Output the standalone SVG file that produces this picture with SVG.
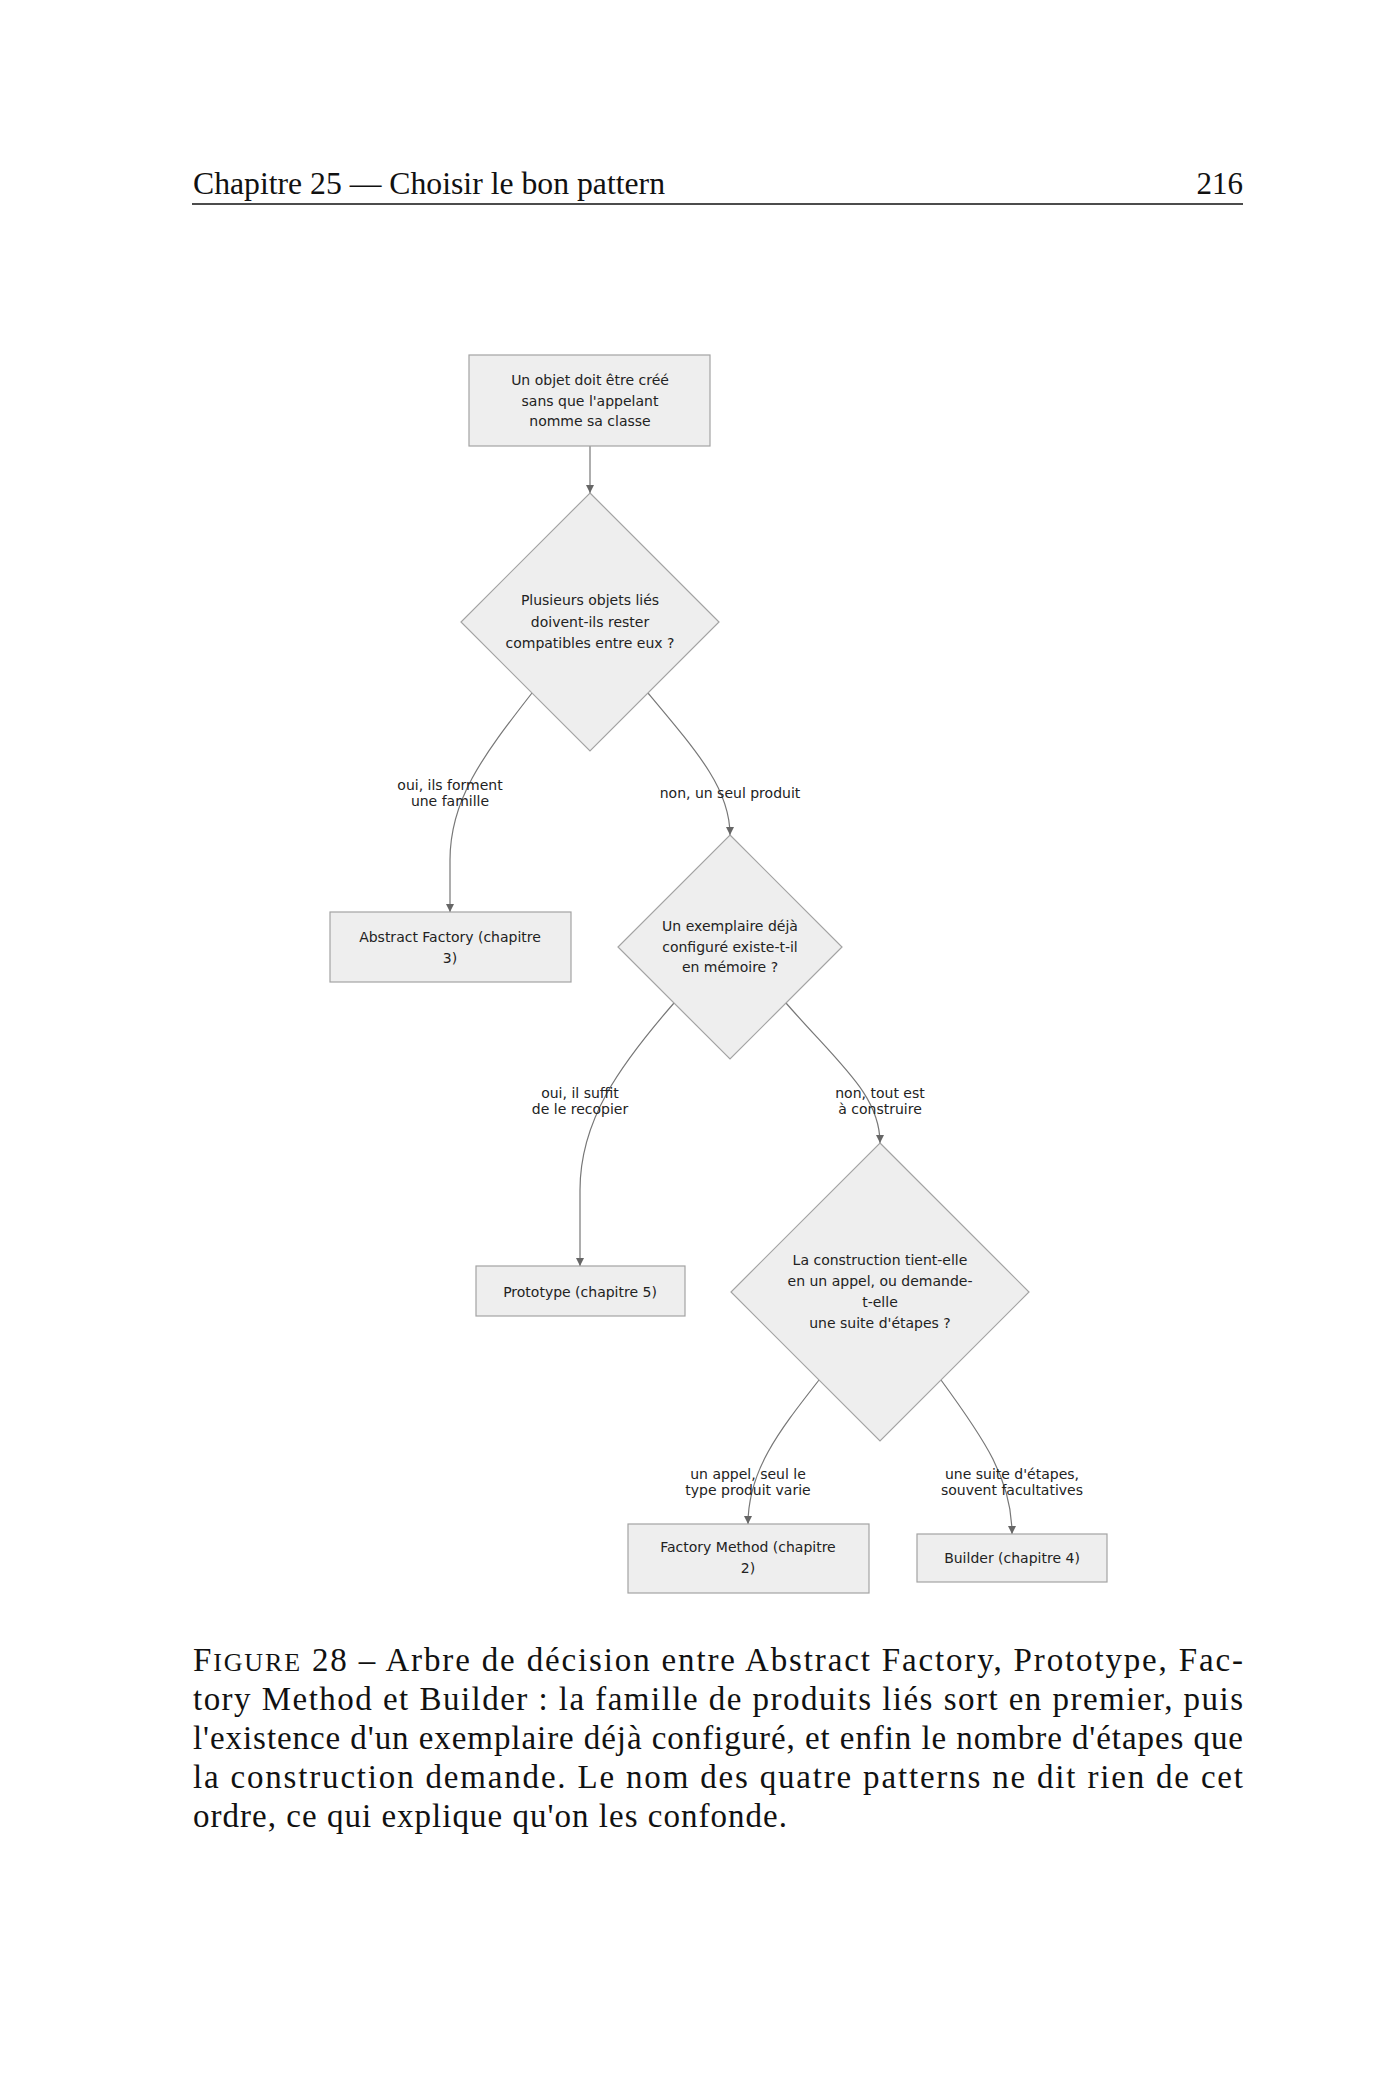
<svg xmlns="http://www.w3.org/2000/svg" width="1400" height="2100" viewBox="0 0 1400 2100">
<defs>
<style>
.page{font-family:"Liberation Serif","DejaVu Serif",serif;fill:#111}
.node rect,.node polygon{fill:#eeeeee;stroke:#a3a3a3;stroke-width:1.2}
.nt{font-family:"DejaVu Sans","Noto Sans",sans-serif;font-size:14px;fill:#222;text-anchor:middle}
.el{font-family:"DejaVu Sans","Noto Sans",sans-serif;font-size:14px;fill:#222;text-anchor:middle}
.edge{fill:none;stroke:#777;stroke-width:1.2}
</style>
<marker id="arr" viewBox="0 0 10 10" refX="10" refY="5" markerWidth="8" markerHeight="8" markerUnits="userSpaceOnUse" orient="auto">
<path d="M0,0 L10,5 L0,10 z" fill="#666"/>
</marker>
</defs>
<rect width="1400" height="2100" fill="#ffffff"/>

<g id="header">
<text class="page" x="193" y="194" font-size="31" textLength="472" lengthAdjust="spacingAndGlyphs">Chapitre 25 — Choisir le bon pattern</text>
<text class="page" x="1243" y="194" font-size="31" text-anchor="end">216</text>
<line x1="192" y1="204" x2="1243" y2="204" stroke="#111" stroke-width="1.4"/>
</g>

<g id="connectors">
<path class="edge" d="M590,446 L590,493" marker-end="url(#arr)"/>
<path class="edge" d="M532,693 C482,757 450,800 450,860 L450,912" marker-end="url(#arr)"/>
<path class="edge" d="M648,693 C700,755 730,790 730,835" marker-end="url(#arr)"/>
<path class="edge" d="M674,1003 C620,1065 580,1120 580,1190 L580,1266" marker-end="url(#arr)"/>
<path class="edge" d="M786,1003 C840,1065 880,1095 880,1143" marker-end="url(#arr)"/>
<path class="edge" d="M819,1380 C780,1430 748,1470 748,1524" marker-end="url(#arr)"/>
<path class="edge" d="M941,1380 C985,1440 1012,1480 1012,1534" marker-end="url(#arr)"/>
</g>

<g id="edge-labels">
<text class="el" x="450" y="790">oui, ils forment</text>
<text class="el" x="450" y="806">une famille</text>
<text class="el" x="730" y="798">non, un seul produit</text>
<text class="el" x="580" y="1098">oui, il suffit</text>
<text class="el" x="580" y="1114">de le recopier</text>
<text class="el" x="880" y="1098">non, tout est</text>
<text class="el" x="880" y="1114">à construire</text>
<text class="el" x="748" y="1479">un appel, seul le</text>
<text class="el" x="748" y="1495">type produit varie</text>
<text class="el" x="1012" y="1479">une suite d'étapes,</text>
<text class="el" x="1012" y="1495">souvent facultatives</text>
</g>

<g id="start" class="node">
<rect x="469" y="355" width="241" height="91"/>
<text class="nt" x="590" y="385">Un objet doit être créé</text>
<text class="nt" x="590" y="406">sans que l'appelant</text>
<text class="nt" x="590" y="426">nomme sa classe</text>
</g>

<g id="q1" class="node">
<polygon points="590,493 719,622 590,751 461,622"/>
<text class="nt" x="590" y="605">Plusieurs objets liés</text>
<text class="nt" x="590" y="627">doivent-ils rester</text>
<text class="nt" x="590" y="648">compatibles entre eux ?</text>
</g>

<g id="abstract-factory" class="node">
<rect x="330" y="912" width="241" height="70"/>
<text class="nt" x="450" y="942">Abstract Factory (chapitre</text>
<text class="nt" x="450" y="963">3)</text>
</g>

<g id="q2" class="node">
<polygon points="730,835 842,947 730,1059 618,947"/>
<text class="nt" x="730" y="931">Un exemplaire déjà</text>
<text class="nt" x="730" y="952">configuré existe-t-il</text>
<text class="nt" x="730" y="972">en mémoire ?</text>
</g>

<g id="prototype" class="node">
<rect x="476" y="1266" width="209" height="50"/>
<text class="nt" x="580" y="1297">Prototype (chapitre 5)</text>
</g>

<g id="q3" class="node">
<polygon points="880,1143 1029,1292 880,1441 731,1292"/>
<text class="nt" x="880" y="1265">La construction tient-elle</text>
<text class="nt" x="880" y="1286">en un appel, ou demande-</text>
<text class="nt" x="880" y="1307">t-elle</text>
<text class="nt" x="880" y="1328">une suite d'étapes ?</text>
</g>

<g id="factory-method" class="node">
<rect x="628" y="1524" width="241" height="69"/>
<text class="nt" x="748" y="1552">Factory Method (chapitre</text>
<text class="nt" x="748" y="1573">2)</text>
</g>

<g id="builder" class="node">
<rect x="917" y="1534" width="190" height="48"/>
<text class="nt" x="1012" y="1563">Builder (chapitre 4)</text>
</g>

<g id="caption" class="page" font-size="33">
<text x="193" y="1671" textLength="1050" lengthAdjust="spacing">F<tspan font-size="26">IGURE</tspan> 28 – Arbre de décision entre Abstract Factory, Prototype, Fac-</text>
<text x="193" y="1710" textLength="1050" lengthAdjust="spacing">tory Method et Builder : la famille de produits liés sort en premier, puis</text>
<text x="193" y="1749" textLength="1050" lengthAdjust="spacing">l'existence d'un exemplaire déjà configuré, et enfin le nombre d'étapes que</text>
<text x="193" y="1788" textLength="1050" lengthAdjust="spacing">la construction demande. Le nom des quatre patterns ne dit rien de cet</text>
<text x="193" y="1827" textLength="594" lengthAdjust="spacing">ordre, ce qui explique qu'on les confonde.</text>
</g>
</svg>
